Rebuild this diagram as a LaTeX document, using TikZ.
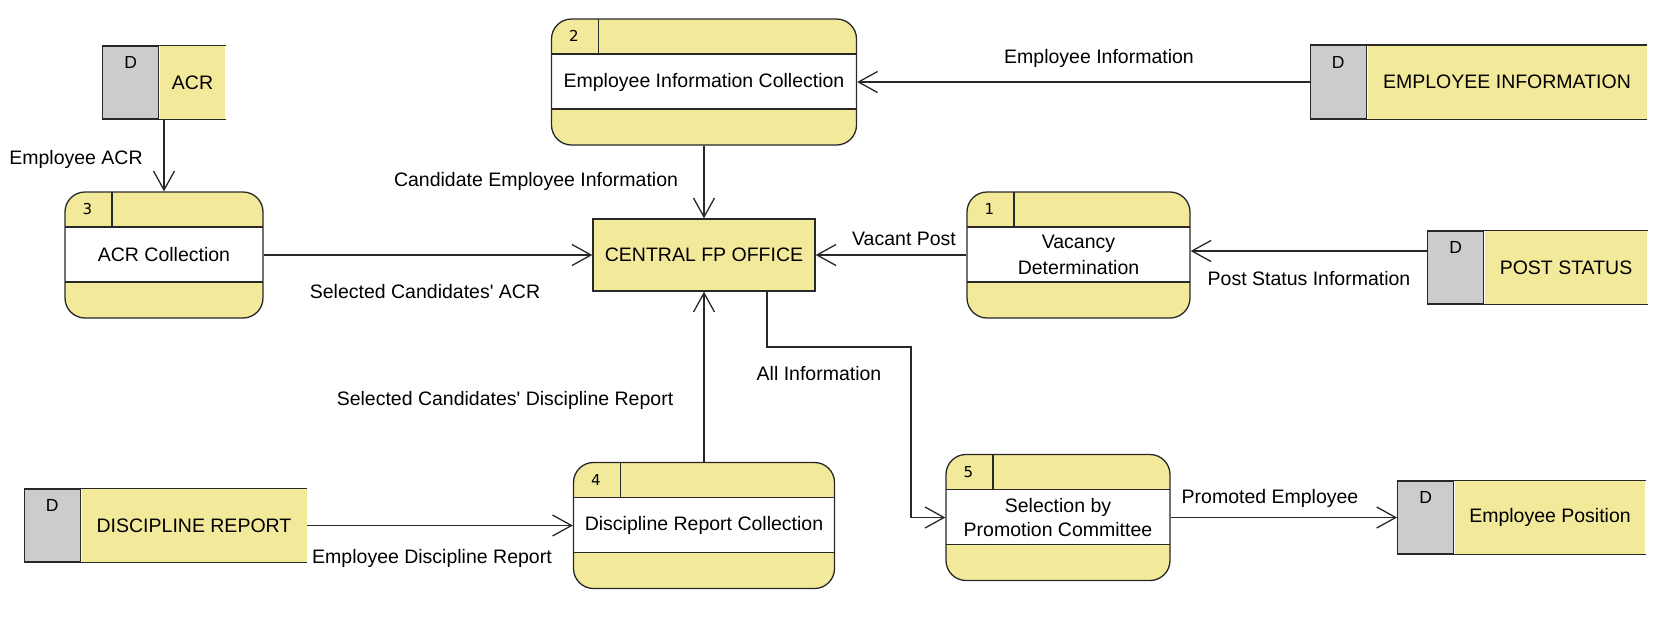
\documentclass[tikz,border=0pt]{standalone}
\usepackage{fontspec}
\setmainfont{Liberation Sans}
\newfontfamily\numfont{DejaVu Sans}
\usetikzlibrary{positioning,arrows.meta}

\definecolor{dfdyellow}{RGB}{243,233,155}
\definecolor{dfdgray}{RGB}{204,204,204}
\definecolor{linec}{RGB}{40,40,40}

\begin{document}
\begin{tikzpicture}[x=1pt,y=1pt]
    \useasboundingbox (0,0) rectangle (1670,-619);
    \begin{scope}[on grid,>={Straight Barb[length=19pt,width=21pt]}, text centered,
    		font=\fontsize{19.5}{23}\selectfont, line width=1.3pt,
    		block/.style={rectangle,draw=linec,fill=dfdyellow,minimum width=222pt,minimum height=72pt},
    		process/.style={rectangle,draw=linec,rounded corners=20pt,fill=dfdyellow,minimum height=126pt,align=center,
    			path picture={
    			\fill[white,sharp corners] ([yshift=-35pt]path picture bounding box.north west) rectangle ([yshift=36pt]path picture bounding box.south east);
    			\draw[linec,sharp corners] ([yshift=-35pt]path picture bounding box.north west) -- ([yshift=-35pt]path picture bounding box.north east)
    			([yshift=36pt]path picture bounding box.south west) -- ([yshift=36pt]path picture bounding box.south east)
    			([xshift=47pt]path picture bounding box.north west) -- ([xshift=47pt,yshift=-35pt]path picture bounding box.north west);
    			}},
    		pnum/.style={font=\numfont\fontsize{15}{18}\selectfont},
    		store/.style={rectangle,fill=dfdyellow,minimum height=73pt,inner sep=0pt},
    		dtag/.style={rectangle,draw=linec,fill=dfdgray,minimum width=56pt,minimum height=73pt,inner sep=0pt,text depth=40pt,font=\fontsize{17.5}{20}\selectfont},
    		arrow/.style={linec, ->}]

    \node[block] (central) at (704,-255) {CENTRAL FP OFFICE};
    \node[process] (p2) [above=173pt of central, minimum width=305pt] {Employee Information Collection};
    \node[process] (p3) [left=540pt of central, minimum width=198pt] {ACR Collection};
    \node[process] (p1) [right=374.5pt of central, minimum width=223pt, font=\fontsize{19.5}{25.5}\selectfont] {Vacancy\\Determination};
    \node[process] (p4) [below=270.5pt of central, minimum width=261pt] {Discipline Report Collection};
    \node[process] (p5) [below right=262.5pt and 354pt of central, minimum width=224pt, font=\fontsize{19.5}{24.5}\selectfont] {Selection by\\Promotion Committee};

    \node[pnum] (p2n) at ([xshift=23pt,yshift=-18pt]p2.north west) {2};
    \node[pnum] (p3n) at ([xshift=23pt,yshift=-18pt]p3.north west) {3};
    \node[pnum] (p1n) at ([xshift=23pt,yshift=-18pt]p1.north west) {1};
    \node[pnum] (p4n) at ([xshift=23pt,yshift=-18pt]p4.north west) {4};
    \node[pnum] (p5n) at ([xshift=23pt,yshift=-18pt]p5.north west) {5};

    \node[store] (acr) [above right=172.5pt and 28.5pt of p3, minimum width=65pt] {ACR};
    \node[store] (empinfo) [right=803pt of p2, minimum width=279pt] {EMPLOYEE INFORMATION};
    \node[store] (post) [below right=12.5pt and 487.5pt of p1, minimum width=162pt] {POST STATUS};
    \node[store] (disc) [left=510pt of p4, minimum width=225pt] {DISCIPLINE REPORT};
    \node[store] (emppos) [right=492pt of p5, minimum width=190pt] {Employee Position};

    \node[dtag, anchor=east] (acrd) at (acr.west) {D};
    \node[dtag, anchor=east] (empinfod) at (empinfo.west) {D};
    \node[dtag, anchor=east] (postd) at (post.west) {D};
    \node[dtag, anchor=east] (discd) at (disc.west) {D};
    \node[dtag, anchor=east] (empposd) at (emppos.west) {D};

    \draw[linec]
    (acrd.north west) -- (acr.north east) (acrd.south west) -- (acr.south east)
    (empinfod.north west) -- (empinfo.north east) (empinfod.south west) -- (empinfo.south east)
    (postd.north west) -- (post.north east) (postd.south west) -- (post.south east)
    (discd.north west) -- (disc.north east) (discd.south west) -- (disc.south east)
    (empposd.north west) -- (emppos.north east) (empposd.south west) -- (emppos.south east);

    \node (lempinfo) at (1099,-58) {Employee Information};
    \node (lempacr) at (76,-159) {Employee ACR};
    \node (lcand) at (536,-181) {Candidate Employee Information};
    \node (lvacant) at (904,-239) {Vacant Post};
    \node (lpost) at (1309,-279) {Post Status Information};
    \node (lselacr) at (425,-292) {Selected Candidates\textquotesingle{} ACR};
    \node (lallinfo) at (819,-374) {All Information};
    \node (lseldisc) at (505,-400) {Selected Candidates\textquotesingle{} Discipline Report};
    \node (lpromoted) at (1270,-498) {Promoted Employee};
    \node (lempdisc) at (432,-558) {Employee Discipline Report};

    \coordinate (allinfo) at (911,-347);

    \path[arrow]
    (empinfod.west) edge (p2.east)
    (p3.north |- acr.south) edge (p3.north)
    (p2.south) edge (central.north)
    (p3.east) edge (central.west)
    (p1.west) edge (central.east)
    ([yshift=4pt]postd.west |- p1.east) edge ([yshift=4pt]p1.east)
    (p4.north) edge (central.south)
    (disc.east) edge (p4.west)
    (p5.east) edge (empposd.west);
    \draw[arrow] ([xshift=63pt]central.south) |- (allinfo) |- (p5.west);

    \end{scope}
\end{tikzpicture}
\end{document}
